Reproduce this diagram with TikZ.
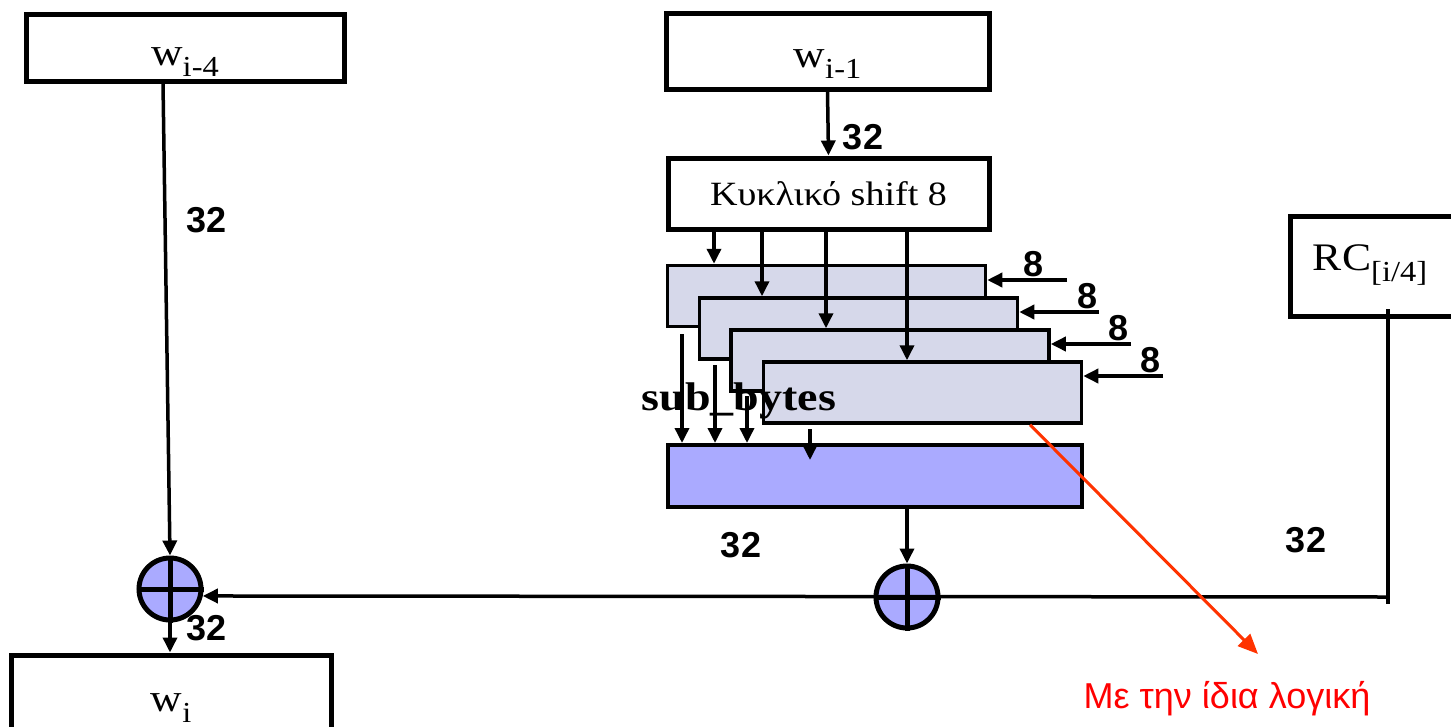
\documentclass[tikz,border=0pt]{standalone}
\usepackage{graphicx}
\usepackage{fontspec}
\setmainfont{Liberation Serif}
\newfontfamily\arialf{Liberation Sans}
\usetikzlibrary{arrows.meta}
\definecolor{lav}{RGB}{214,216,234}
\definecolor{bluef}{RGB}{170,170,255}
\definecolor{notered}{RGB}{255,0,0}
\definecolor{arrred}{RGB}{255,51,0}
\newcommand{\wsub}[1]{\raisebox{-11pt}{\fontsize{29}{29}\selectfont #1}}
\newcommand{\widetxt}[1]{\scalebox{1.12}[1]{#1}}
\newcommand{\lblat}[2]{\raisebox{-#1}[0pt][0pt]{\widetxt{#2}}}
\begin{document}
\begin{tikzpicture}[x=1pt,y=-1pt,
  wbox/.style={draw, line width=5pt, fill=white, inner sep=0pt, font=\fontsize{39}{40}\selectfont},
  sbox/.style={draw, line width=3.5pt, fill=lav, inner sep=0pt, minimum width=318pt, minimum height=61pt},
  bbox/.style={draw, line width=4pt, fill=bluef, inner sep=0pt},
  xor/.style={circle, draw, line width=5pt, fill=bluef, minimum size=62pt, inner sep=0pt},
  arr/.style={line width=3.5pt, -{Triangle[length=15pt,width=14pt]}},
  num/.style={font=\arialf\bfseries\fontsize{36}{36}\selectfont, inner sep=0pt},
]
\useasboundingbox (0,0) rectangle (1451,726);
\fill[white] (0,0) rectangle (1451,726);
\clip (0,0) rectangle (1451,726);

% boxes
\node[wbox, minimum width=318pt, minimum height=67pt] (wim4) at (185,47.5) {\lblat{18pt}{w\wsub{i-4}}};
\node[wbox, minimum width=323pt, minimum height=76pt] (wim1) at (827.5,51) {\lblat{16pt}{w\wsub{i-1}}};
\node[wbox, minimum width=321pt, minimum height=71pt, font=\fontsize{34}{36}\selectfont] (kyk) at (828.5,193.5) {\widetxt{Κυκλικό shift 8}};
\node[sbox] (b1) at (826.5,296) {};
\node[sbox] (b2) at (858.5,328.5) {};
\node[sbox] (b3) at (890,360.5) {};
\node[sbox] (b4) at (922.5,392.5) {};
\node[bbox, minimum width=414pt, minimum height=62pt] (blue) at (875,476) {};
\node[wbox, minimum width=210pt, minimum height=100pt] (rc) at (1395,266) {\hspace*{-50pt}\lblat{4pt}{RC\wsub{[i/4]}}};
\node[wbox, minimum width=320pt, minimum height=90pt] (wi) at (171,700) {\lblat{11pt}{w\wsub{i}}};

% xor nodes
\node[xor] (x1) at (170,589) {};
\node[xor] (x2) at (907,597) {};
\foreach \n in {x1,x2}
  \draw[line width=5pt] (\n.north) -- (\n.south) (\n.west) -- (\n.east);

% column coordinates
\coordinate (ca) at (163,0);
\coordinate (k1) at (714,0);
\coordinate (k2) at (762,0);
\coordinate (k3) at (826,0);
\coordinate (k4) at (907,0);

\draw[arr] (wim4.south -| ca) -- (x1.north);
\draw[arr] (wim1.south) -- (kyk.north);
\draw[arr] (kyk.south -| k1) -- (b1.north -| k1);
\draw[arr] (kyk.south -| k2) -- (b2.north -| k2);
\draw[arr] (kyk.south -| k3) -- (b3.north -| k3);
\draw[arr] (kyk.south -| k4) -- (b4.north -| k4);

% byte inputs
\coordinate (e1) at (1067,280);
\coordinate (e2) at (1099,312);
\coordinate (e3) at (1131,344);
\coordinate (e4) at (1163,376);
\draw[arr] (e1) -- (e1 -| b1.east);
\draw[arr] (e2) -- (e2 -| b2.east);
\draw[arr] (e3) -- (e3 -| b3.east);
\draw[arr] (e4) -- (e4 -| b4.east);
\node[num] (n1) at (1033,264) {8};
\node[num] (n2) at (1087,296) {8};
\node[num] (n3) at (1118,328) {8};
\node[num] (n4) at (1150,360) {8};

% down to the blue box
\coordinate (d1) at (682,334);
\coordinate (d2) at (715,365);
\coordinate (d3) at (747,396);
\coordinate (d4) at (810,429);
\coordinate (d4e) at (810,460);
\draw[arr] (d1) -- (d1 |- blue.north);
\draw[arr] (d2) -- (d2 |- blue.north);
\draw[arr] (d3) -- (d3 |- blue.north);
\draw[arr] (d4) -- (d4e);

\node[font=\bfseries\fontsize{40}{40}\selectfont, inner sep=0pt] (sb) at (739,401) {\scalebox{1.15}[1]{sub\_bytes}};

\draw[arr] (blue.south -| x2) -- (x2.north);
\draw[arr] (x1.south) -- (x1.south |- wi.north);

% RC line
\coordinate (rct) at (1388,309);
\coordinate (rcc) at (1388,597);
\coordinate (rcb) at (1388,604);
\draw[line width=3.5pt] (rct) -- (rcb);
\draw[arr] (rcc) -- (x1.-12);

% labels 32
\node[num] (l1) at (207,220) {32};
\node[num] (l2) at (863,137) {32};
\node[num] (l3) at (741,545) {32};
\node[num] (l4) at (1306,540) {32};
\node[num] (l5) at (207,628) {32};

% red note
\coordinate (rs) at (1030,0);
\coordinate (rtip) at (1258,654);
\draw[arrred, line width=3pt, -{Triangle[length=20pt,width=17pt]}] (b4.south -| rs) -- (rtip);
\node[font=\arialf\fontsize{36}{36}\selectfont, text=notered, anchor=base, inner sep=0pt] (note) at (1227,708) {Με την ίδια λογική};
\end{tikzpicture}
\end{document}
